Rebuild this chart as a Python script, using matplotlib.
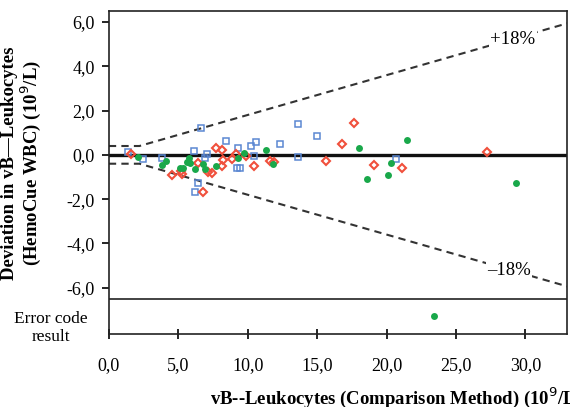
import numpy as np
import matplotlib
matplotlib.use("Agg")
import matplotlib.pyplot as plt

# blue open squares
blue_x = [1.4, 2.45, 3.8, 6.1, 6.6, 6.4, 6.2, 6.9, 7.05, 8.4, 9.33, 9.25, 9.45,
          10.24, 10.58, 10.43, 12.3, 13.6, 13.6, 14.96, 20.7]
blue_y = [0.15, -0.17, -0.13, 0.18, 1.21, -1.26, -1.67, -0.12, 0.05, 0.64, 0.33, -0.58, -0.58,
          0.41, 0.6, -0.05, 0.49, 1.4, -0.08, 0.86, -0.17]

# red open diamonds
red_x = [1.56, 4.58, 5.23, 5.2, 6.42, 6.78, 7.12, 7.4, 7.7, 8.18, 8.22, 8.18, 8.9, 9.19,
         9.86, 10.48, 11.58, 11.87, 15.66, 16.8, 17.65, 19.1, 21.1, 27.2]
red_y = [0.03, -0.9, -0.85, -0.73, -0.35, -1.67, -0.77, -0.82, 0.33, 0.21, -0.24, -0.5, -0.2, 0.06,
         -0.05, -0.5, -0.27, -0.32, -0.27, 0.49, 1.44, -0.48, -0.6, 0.15]

# green filled circles
green_x = [2.1, 3.8, 4.1, 5.1, 5.35, 5.6, 5.83, 5.8, 6.2, 6.8, 6.9, 7.75, 9.3, 9.7,
           11.35, 11.8, 18.0, 18.6, 20.1, 20.3, 21.5, 29.3]
green_y = [-0.09, -0.45, -0.27, -0.58, -0.58, -0.32, -0.35, -0.12, -0.65, -0.42, -0.65, -0.5, -0.15, 0.1,
           0.21, -0.4, 0.29, -1.1, -0.92, -0.35, 0.68, -1.27]

# result that gave an error code
error_x = [23.4]
error_y = [-7.27]

# +/-18 % limits with 0.4 floor
limit_x = [0.0, 2.2, 33.0]
limit_hi = [0.4, 0.4, 5.94]
limit_lo = [-0.4, -0.4, -5.94]

y_ticks = [6, 4, 2, 0, -2, -4, -6]
x_ticks = [0, 5, 10, 15, 20, 25, 30]


def comma(v):
    return ("%.1f" % v).replace(".", ",")


def main():
    plt.rcParams['font.family'] = ['Liberation Serif', 'DejaVu Serif']
    fig = plt.figure(figsize=(5.7, 4.07), dpi=100)
    ax = fig.add_axes([0.191, 0.179, 0.804, 0.794])

    ax.plot(limit_x, limit_hi, '--', color='#333333', lw=1.5, dashes=(3.5, 2.5), zorder=1)
    ax.plot(limit_x, limit_lo, '--', color='#333333', lw=1.5, dashes=(3.5, 2.5), zorder=1)
    ax.axhline(0, color='#111111', lw=2.4, zorder=2)
    ax.axhline(-6.5, color='#222222', lw=1.2, zorder=2)

    ax.plot(blue_x, blue_y, 's', ms=4.3, mfc='none', mec='#5b87d2', mew=1.1, zorder=3)
    ax.plot(red_x, red_y, 'D', ms=4.0, mfc='none', mec='#f0503c', mew=1.5, zorder=4)
    ax.plot(green_x, green_y, 'o', ms=5, color='#19a84a', mec='none', zorder=5)
    ax.plot(error_x, error_y, 'o', ms=5, color='#19a84a', mec='none', zorder=5)

    ax.text(29.1, 5.22, "+18%", fontsize=13.5, ha='center', va='center',
            bbox=dict(fc='white', ec='none', pad=1), zorder=6)
    ax.text(28.8, -5.22, "\u201318%", fontsize=13.5, ha='center', va='center',
            bbox=dict(fc='white', ec='none', pad=1), zorder=6)

    ax.set_xlim(0, 33)
    ax.set_ylim(-8.1, 6.5)
    ax.set_yticks(y_ticks)
    ax.set_yticklabels([comma(v) for v in y_ticks])
    ax.set_xticks(x_ticks)
    ax.set_xticklabels([comma(v) for v in x_ticks])
    ax.tick_params(axis='y', direction='out', length=5, width=1.2, pad=5, labelsize=13)
    ax.tick_params(axis='x', direction='inout', length=7, width=1.2, pad=13, labelsize=13)
    for s in ax.spines.values():
        s.set_linewidth(1.2)
        s.set_color('#222222')

    fig.text(22 / 570, 1 - 163 / 407, "Deviation in vB\u2014Leukocytes\n(HemoCue WBC) (10$^9$/L)",
             rotation=90, ha='center', va='center', multialignment='center',
             fontsize=13.5, fontweight='bold', linespacing=1.0)
    fig.text(51 / 570, 1 - 328 / 407, "Error code\nresult", ha='center', va='center',
             fontsize=12.5, linespacing=1.15)
    fig.text(210 / 570, 0.022, "vB--Leukocytes (Comparison Method) (10$^9$/L)",
             ha='left', va='center', fontsize=13.5, fontweight='bold')

    fig.savefig('out.png', dpi=100)


if __name__ == '__main__':
    main()
